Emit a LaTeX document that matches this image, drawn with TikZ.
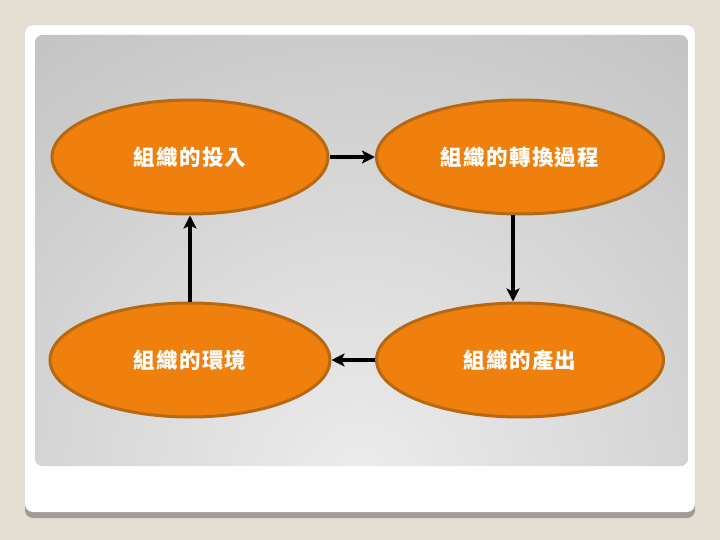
\documentclass[tikz,border=0pt]{standalone}
\usepackage{fontspec}
\newfontfamily\cjk{Noto Sans CJK TC}[LetterSpace=6]
\usetikzlibrary{arrows.meta}
\usetikzlibrary{shapes.geometric}
\usetikzlibrary{positioning}

\definecolor{pagebg}{RGB}{228,222,211}
\definecolor{cardedge}{RGB}{160,155,150}
\definecolor{panelgray}{RGB}{176,176,176}
\definecolor{panellight}{RGB}{236,236,236}
\definecolor{ovalfill}{RGB}{239,128,14}
\definecolor{ovaledge}{RGB}{182,104,18}

\tikzset{
  stage/.style={ellipse,draw=ovaledge,fill=ovalfill,line width=3pt,
    minimum height=114pt,inner sep=0pt,text=white,
    font=\cjk\bfseries\fontsize{21.5}{24}\selectfont},
  flow/.style={->,line width=3.5pt},
}

\begin{document}
\begin{tikzpicture}[x=1pt,y=-1pt,node distance=330pt,auto,>={Stealth[length=13pt,width=13pt,inset=3pt]}]
      % slide background, card and panel
      \useasboundingbox[fill=pagebg] (0,0) rectangle (720,540);
      \fill[cardedge,rounded corners=8pt] (25,25) rectangle (695,518);
      \fill[white,rounded corners=8pt] (25,25) rectangle (695,512);
      \begin{scope}
        \clip[rounded corners=8pt] (35,35) rectangle (688,466);
        \fill[panelgray] (35,35) rectangle (688,466);
        \shade[inner color=panellight,outer color=panelgray] (360,480) circle (820);
      \end{scope}
      \node[stage,minimum width=276pt] (input) at (190,157) {組織的投入};
      \node[stage,minimum width=287pt] (process) [right of=input] {組織的轉換過程};
      \node[stage,minimum width=280pt] (env) [below of=input,node distance=203pt] {組織的環境};
      \node[stage,minimum width=287pt] (output) [below of=process,node distance=203pt] {組織的產出};
      \draw[flow] (input) -- (process);
      \draw[flow] ([xshift=-7pt]process.south) -- ([xshift=-7pt]output.north);
      \draw[flow] (output) -- (env);
      \draw[flow] (env) -- (input);
    \end{tikzpicture}
\end{document}
